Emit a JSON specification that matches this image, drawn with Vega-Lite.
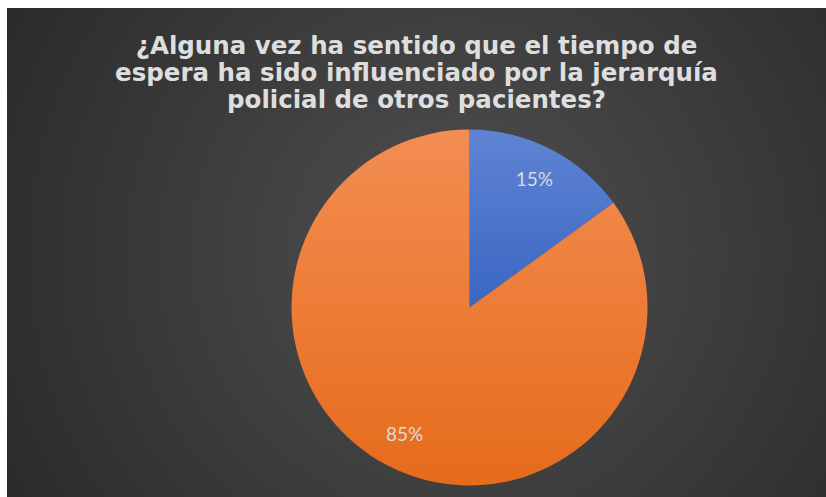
{
  "$schema": "https://vega.github.io/schema/vega-lite/v6.json",
  "width": 819,
  "height": 489,
  "autosize": {"type": "none"},
  "padding": {"left": 7, "top": 8, "right": 0, "bottom": 0},
  "background": "#ffffff",
  "config": {"view": {"stroke": null}},
  "title": {
    "text": ["¿Alguna vez ha sentido que el tiempo de", "espera ha sido influenciado por la jerarquía", "policial de otros pacientes?"],
    "font": "DejaVu Sans",
    "fontSize": 24.5,
    "fontWeight": "bold",
    "color": "#dedede",
    "lineHeight": 27,
    "anchor": "middle",
    "frame": "group",
    "offset": -105
  },
  "data": {"values": [
    {"respuesta": "Sí", "orden": 1, "valor": 0.15},
    {"respuesta": "No", "orden": 2, "valor": 0.85}
  ]},
  "layer": [
    {
      "data": {"values": [{"fondo": 1}]},
      "mark": {
        "type": "rect",
        "fill": {
          "gradient": "radial",
          "x1": 0.55, "y1": 0.5, "r1": 0,
          "x2": 0.55, "y2": 0.5, "r2": 0.75,
          "stops": [
            {"offset": 0, "color": "#505050"},
            {"offset": 1, "color": "#232323"}
          ]
        }
      },
      "encoding": {}
    },
    {
      "mark": {"type": "arc", "outerRadius": 178, "x": {"expr": "width/2 + 53"}, "y": {"expr": "height/2 + 55"}},
      "encoding": {
        "theta": {"field": "valor", "type": "quantitative", "stack": true},
        "order": {"field": "orden", "type": "quantitative"},
        "fill": {
          "condition": {
            "test": "datum.respuesta === 'Sí'",
            "value": {"gradient": "linear", "x1": 0, "y1": 0, "x2": 0, "y2": 1,
              "stops": [{"offset": 0, "color": "#5f84d3"}, {"offset": 1, "color": "#3a66c3"}]}
          },
          "value": {"gradient": "linear", "x1": 0, "y1": 0, "x2": 0, "y2": 1,
            "stops": [{"offset": 0, "color": "#f38d52"}, {"offset": 1, "color": "#e66b1b"}]}
        }
      }
    },
    {
      "mark": {"type": "text", "radius": 143, "x": {"expr": "width/2 + 53"}, "y": {"expr": "height/2 + 55"}, "font": "Lato", "fontSize": 19, "color": "#dcdcdc"},
      "encoding": {
        "theta": {"field": "valor", "type": "quantitative", "stack": true},
        "order": {"field": "orden", "type": "quantitative"},
        "text": {"field": "valor", "type": "quantitative", "format": ".0%"}
      }
    }
  ]
}
